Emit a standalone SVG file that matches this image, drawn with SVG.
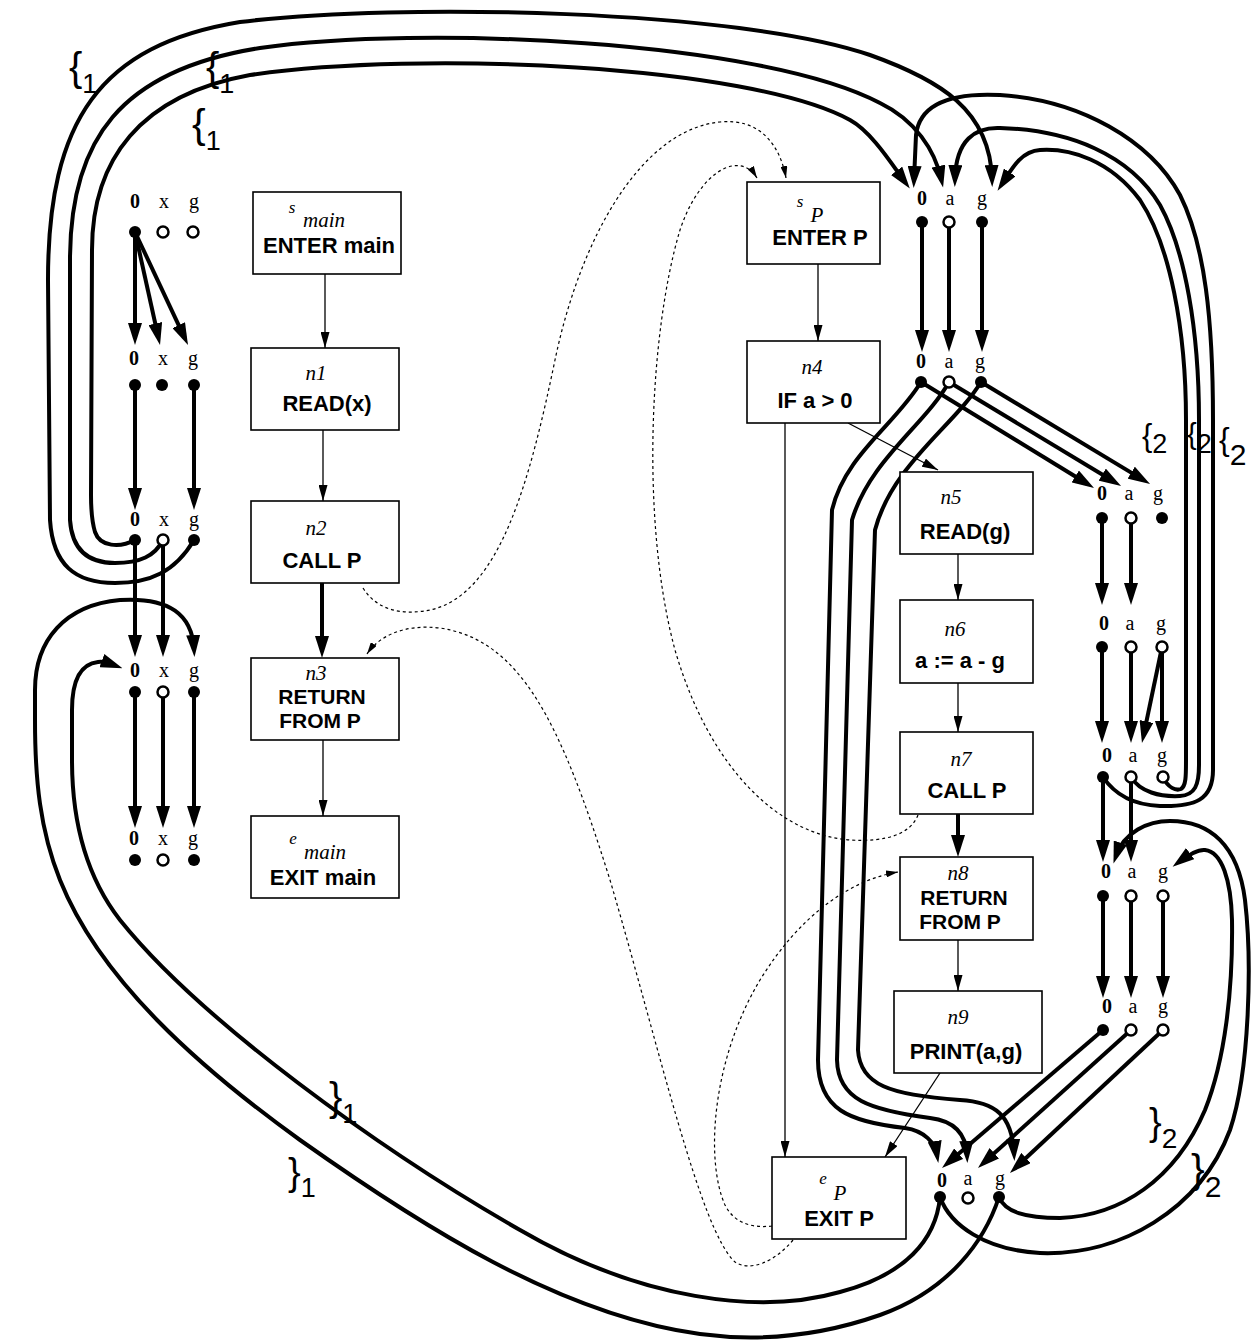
<svg xmlns="http://www.w3.org/2000/svg" width="1260" height="1344" viewBox="0 0 1260 1344">
<style>
.box{fill:#fff;stroke:#000;stroke-width:1.6}
.bt{font-family:"Liberation Sans",Arial,sans-serif;font-weight:bold;font-size:22px;text-anchor:middle;fill:#000}
.bt2{font-size:21px}
.it{font-family:"Liberation Serif","Times New Roman",serif;font-style:italic;font-size:21px;text-anchor:middle;fill:#000}
.its{font-family:"Liberation Serif","Times New Roman",serif;font-style:italic;font-size:17px;text-anchor:middle;fill:#000}
.v{font-family:"Liberation Serif","Times New Roman",serif;font-size:20px;text-anchor:middle;fill:#000}
.b{font-weight:bold}
.df{fill:#000}
.do{fill:#fff;stroke:#000;stroke-width:2.5}
.tk{fill:none;stroke:#000;stroke-width:4}
.th{fill:none;stroke:#000;stroke-width:1.3}
.dt{fill:none;stroke:#000;stroke-width:1.2;stroke-dasharray:3 3}
.br{font-family:"Liberation Sans",Arial,sans-serif;fill:#000}
</style>
<defs>
<marker id="ah" viewBox="0 0 22 14" refX="14" refY="7" markerWidth="22" markerHeight="14" markerUnits="userSpaceOnUse" orient="auto"><path d="M0,0 L22,7 L0,14 Z" fill="#000"/></marker>
<marker id="ta" viewBox="0 0 16 9" refX="16" refY="4.5" markerWidth="16" markerHeight="9" markerUnits="userSpaceOnUse" orient="auto"><path d="M0,0 L16,4.5 L0,9 Z" fill="#000"/></marker>
<marker id="da" viewBox="0 0 12 7" refX="12" refY="3.5" markerWidth="12" markerHeight="7" markerUnits="userSpaceOnUse" orient="auto"><path d="M0,0 L12,3.5 L0,7 Z" fill="#000"/></marker>
</defs>
<rect width="1260" height="1344" fill="#fff"/>

<g id="connectors">
<!-- flow edges -->
<path class="th" d="M325 274 L325 348" marker-end="url(#ta)"/>
<path class="th" d="M323 430 L323 501" marker-end="url(#ta)"/>
<path class="tk" d="M322 583 L322 650" marker-end="url(#ah)"/>
<path class="th" d="M323 740 L323 816" marker-end="url(#ta)"/>
<path class="th" d="M818 264 L818 341" marker-end="url(#ta)"/>
<path class="th" d="M848 423 L938 470" marker-end="url(#ta)"/>
<path class="th" d="M785 423 L785 1157" marker-end="url(#ta)"/>
<path class="th" d="M958 554 L958 600" marker-end="url(#ta)"/>
<path class="th" d="M958 683 L958 732" marker-end="url(#ta)"/>
<path class="tk" d="M958 814 L958 849" marker-end="url(#ah)"/>
<path class="th" d="M958 940 L958 991" marker-end="url(#ta)"/>
<path class="th" d="M940 1073 L885 1157" marker-end="url(#ta)"/>
<!-- call / return dotted -->
<path class="dt" d="M363 588 C378 612 405 615 430 610 C500 595 530 480 555 360 C580 240 640 130 720 122 C760 118 780 145 786 178" marker-end="url(#da)"/>
<path class="dt" d="M918 815 C910 835 885 842 850 840 C780 835 710 770 675 650 C640 520 650 330 680 230 C700 170 740 150 757 178" marker-end="url(#da)"/>
<path class="dt" d="M793 1240 C775 1262 750 1272 735 1262 C700 1230 660 1050 610 880 C560 720 520 640 440 628 C405 624 380 635 367 654" marker-end="url(#da)"/>
<path class="dt" d="M772 1226 C755 1228 735 1225 725 1205 C705 1160 712 1060 760 980 C800 915 850 880 898 872" marker-end="url(#da)"/>

<!-- main exploded edges -->
<path class="tk" d="M135 232 L135 337" marker-end="url(#ah)"/>
<path class="tk" d="M135 232 L158.3 337.2" marker-end="url(#ah)"/>
<path class="tk" d="M135 232 L184.6 337.8" marker-end="url(#ah)"/>
<path class="tk" d="M135 385 L135 502" marker-end="url(#ah)"/>
<path class="tk" d="M194 385 L194 502" marker-end="url(#ah)"/>
<path class="tk" d="M135 540 L135 649" marker-end="url(#ah)"/>
<path class="tk" d="M163 540 L163 649" marker-end="url(#ah)"/>
<path class="tk" d="M135 692 L135 820" marker-end="url(#ah)"/>
<path class="tk" d="M163 692 L163 820" marker-end="url(#ah)"/>
<path class="tk" d="M194 692 L194 820" marker-end="url(#ah)"/>
<!-- main call edges to P -->
<path class="tk" d="M135 540 C120 548 100 547 95 532 C92 522 91 510 91 495 L92 250 C92 160 140 95 250 75 C420 50 750 65 850 120 C872 132 893 166 905 182" marker-end="url(#ah)"/>
<path class="tk" d="M163 540 C155 556 140 563 115 563 C88 563 72 550 70 520 L70 260 C70 140 120 70 260 48 C420 25 760 40 880 103 C915 120 935 150 941.4 179.8" marker-end="url(#ah)"/>
<path class="tk" d="M194 540 C175 572 150 583 115 583 C75 583 53 565 50 520 L48 280 C48 120 100 45 240 22 C400 2 740 10 870 55 C940 80 990 110 992 179" marker-end="url(#ah)"/>
<!-- returns to main -->
<path class="tk" d="M940 1197 C936 1240 905 1275 840 1292 C760 1315 640 1300 520 1230 C380 1150 200 1020 120 920 C85 875 72 820 72 760 L72 710 C72 680 80 664 98 662 C106 661 111 664 115 665.5" marker-end="url(#ah)"/>
<path class="tk" d="M999 1197 C985 1240 950 1290 880 1315 C820 1336 760 1342 700 1334 C560 1315 420 1225 300 1140 C200 1068 100 980 60 880 C40 830 35 780 35 720 L35 690 C35 640 65 605 120 600 C170 597 192 615 194 649" marker-end="url(#ah)"/>

<!-- P exploded edges -->
<path class="tk" d="M922 222 L922 344" marker-end="url(#ah)"/>
<path class="tk" d="M949 222 L949 344" marker-end="url(#ah)"/>
<path class="tk" d="M982 222 L982 344" marker-end="url(#ah)"/>
<path class="tk" d="M921 382 L1087.2 483.8" marker-end="url(#ah)"/>
<path class="tk" d="M949 382 L1114.2 481.8" marker-end="url(#ah)"/>
<path class="tk" d="M981 382 L1143.2 479.9" marker-end="url(#ah)"/>
<path class="tk" d="M921 382 C895 425 845 455 832 510 L818 1060 C818 1110 850 1122 905 1128 C925 1131 935 1143 937 1155" marker-end="url(#ah)"/>
<path class="tk" d="M949 382 C925 425 870 460 852 520 L837 1060 C838 1100 870 1110 930 1118 C955 1121 966 1135 967 1155" marker-end="url(#ah)"/>
<path class="tk" d="M981 382 C955 425 892 465 875 530 L858 1050 C860 1085 890 1095 960 1100 C995 1102 1012 1115 1014 1153" marker-end="url(#ah)"/>
<path class="tk" d="M1102 518 L1102 597" marker-end="url(#ah)"/>
<path class="tk" d="M1131 518 L1131 597" marker-end="url(#ah)"/>
<path class="tk" d="M1102 647 L1102 735" marker-end="url(#ah)"/>
<path class="tk" d="M1131 647 L1131 735" marker-end="url(#ah)"/>
<path class="tk" d="M1162 647 L1143.6 735.2" marker-end="url(#ah)"/>
<path class="tk" d="M1162 647 L1162 735" marker-end="url(#ah)"/>
<path class="tk" d="M1103 777 L1103 854" marker-end="url(#ah)"/>
<path class="tk" d="M1131 777 L1131 854" marker-end="url(#ah)"/>
<path class="tk" d="M1103 896 L1103 990" marker-end="url(#ah)"/>
<path class="tk" d="M1131 896 L1131 990" marker-end="url(#ah)"/>
<path class="tk" d="M1163 896 L1163 990" marker-end="url(#ah)"/>
<path class="tk" d="M1103 1030 L948.1 1162.8" marker-end="url(#ah)"/>
<path class="tk" d="M1131 1030 L983.9 1162.6" marker-end="url(#ah)"/>
<path class="tk" d="M1163 1030 L1015.8 1167.5" marker-end="url(#ah)"/>
<!-- recursive call edges n7 -> ENTER P -->
<path class="tk" d="M1103 777 C1115 795 1135 805 1160 806 C1195 807 1213 800 1213 770 L1213 420 C1213 320 1205 245 1180 195 C1150 140 1080 100 1000 95 C960 93 920 100 916 135 L914 180" marker-end="url(#ah)"/>
<path class="tk" d="M1131 777 C1140 792 1160 797 1180 796 C1195 795 1199 785 1199 765 L1199 420 C1199 330 1185 250 1160 205 C1130 155 1070 130 1000 128 C975 127 956 140 955 179" marker-end="url(#ah)"/>
<path class="tk" d="M1163 777 C1168 788 1176 791 1181 789 C1186 786 1186 776 1186 760 L1186 420 C1186 330 1170 245 1140 200 C1110 160 1070 148 1040 150 C1020 151 1010 172 1002 184" marker-end="url(#ah)"/>
<!-- recursive returns EXIT P -> n8 -->
<path class="tk" d="M940 1197 C950 1225 985 1250 1040 1253 C1120 1256 1200 1210 1230 1130 C1250 1070 1252 960 1245 900 C1238 845 1210 821 1170 821 C1148 821 1124 832 1116 856" marker-end="url(#ah)"/>
<path class="tk" d="M999 1197 C1005 1212 1025 1218 1060 1218 C1120 1216 1175 1180 1205 1110 C1225 1060 1233 990 1232 920 C1231 880 1222 852 1205 850 C1197 849 1187 856 1179 862" marker-end="url(#ah)"/>
</g>

<!-- nodes: main -->
<g id="s_main"><rect class="box" x="253" y="192" width="148" height="82"/><text class="its" x="292" y="213">s</text><text class="it" x="324" y="227">main</text><text class="bt" x="329" y="253">ENTER main</text></g>
<g id="n1"><rect class="box" x="251" y="348" width="148" height="82"/><text class="it" x="316" y="380">n1</text><text class="bt" x="327" y="411">READ(x)</text></g>
<g id="n2"><rect class="box" x="251" y="501" width="148" height="82"/><text class="it" x="316" y="535">n2</text><text class="bt" x="322" y="568">CALL P</text></g>
<g id="n3"><rect class="box" x="251" y="658" width="148" height="82"/><text class="it" x="316" y="680">n3</text><text class="bt bt2" x="322" y="704">RETURN</text><text class="bt bt2" x="320" y="728">FROM P</text></g>
<g id="e_main"><rect class="box" x="251" y="816" width="148" height="82"/><text class="its" x="293" y="844">e</text><text class="it" x="325" y="859">main</text><text class="bt" x="323" y="885">EXIT main</text></g>
<!-- nodes: P -->
<g id="s_P"><rect class="box" x="747" y="182" width="133" height="82"/><text class="its" x="800" y="207">s</text><text class="it" x="817" y="222">P</text><text class="bt" x="820" y="245">ENTER P</text></g>
<g id="n4"><rect class="box" x="747" y="341" width="133" height="82"/><text class="it" x="812" y="374">n4</text><text class="bt" x="815" y="408">IF a &gt; 0</text></g>
<g id="n5"><rect class="box" x="900" y="472" width="133" height="82"/><text class="it" x="951" y="504">n5</text><text class="bt" x="965" y="539">READ(g)</text></g>
<g id="n6"><rect class="box" x="900" y="600" width="133" height="83"/><text class="it" x="955" y="636">n6</text><text class="bt" x="960" y="668">a := a - g</text></g>
<g id="n7"><rect class="box" x="900" y="732" width="133" height="82"/><text class="it" x="961" y="766">n7</text><text class="bt" x="967" y="798">CALL P</text></g>
<g id="n8"><rect class="box" x="900" y="857" width="133" height="83"/><text class="it" x="958" y="880">n8</text><text class="bt bt2" x="964" y="905">RETURN</text><text class="bt bt2" x="960" y="929">FROM P</text></g>
<g id="n9"><rect class="box" x="894" y="991" width="148" height="82"/><text class="it" x="958" y="1024">n9</text><text class="bt" x="966" y="1059">PRINT(a,g)</text></g>
<g id="e_P"><rect class="box" x="772" y="1157" width="134" height="82"/><text class="its" x="823" y="1184">e</text><text class="it" x="840" y="1200" font-size="20">P</text><text class="bt" x="839" y="1226">EXIT P</text></g>

<!-- exploded variable rows -->
<g id="vars_main_1"><text class="v b" x="135" y="208">0</text><text class="v" x="164" y="208">x</text><text class="v" x="194" y="208">g</text><circle class="df" cx="135" cy="232" r="6"/><circle class="do" cx="163" cy="232" r="5.5"/><circle class="do" cx="193" cy="232" r="5.5"/></g>
<g id="vars_main_2"><text class="v b" x="134" y="365">0</text><text class="v" x="163" y="365">x</text><text class="v" x="193" y="365">g</text><circle class="df" cx="135" cy="385" r="6"/><circle class="df" cx="162" cy="385" r="6"/><circle class="df" cx="194" cy="385" r="6"/></g>
<g id="vars_main_3"><text class="v b" x="135" y="526">0</text><text class="v" x="164" y="526">x</text><text class="v" x="194" y="526">g</text><circle class="df" cx="135" cy="540" r="6"/><circle class="do" cx="163" cy="540" r="5.5"/><circle class="df" cx="194" cy="540" r="6"/></g>
<g id="vars_main_4"><text class="v b" x="135" y="677">0</text><text class="v" x="164" y="677">x</text><text class="v" x="194" y="677">g</text><circle class="df" cx="135" cy="692" r="6"/><circle class="do" cx="163" cy="692" r="5.5"/><circle class="df" cx="194" cy="692" r="6"/></g>
<g id="vars_main_5"><text class="v b" x="134" y="845">0</text><text class="v" x="163" y="845">x</text><text class="v" x="193" y="845">g</text><circle class="df" cx="135" cy="860" r="6"/><circle class="do" cx="163" cy="860" r="5.5"/><circle class="df" cx="194" cy="860" r="6"/></g>
<g id="vars_P_entry"><text class="v b" x="922" y="205">0</text><text class="v" x="950" y="205">a</text><text class="v" x="982" y="205">g</text><circle class="df" cx="922" cy="222" r="6"/><circle class="do" cx="949" cy="222" r="5.5"/><circle class="df" cx="982" cy="222" r="6"/></g>
<g id="vars_P_n4"><text class="v b" x="921" y="368">0</text><text class="v" x="949" y="368">a</text><text class="v" x="980" y="368">g</text><circle class="df" cx="921" cy="382" r="6"/><circle class="do" cx="949" cy="382" r="5.5"/><circle class="df" cx="981" cy="382" r="6"/></g>
<g id="vars_P_n5"><text class="v b" x="1102" y="500">0</text><text class="v" x="1129" y="500">a</text><text class="v" x="1158" y="500">g</text><circle class="df" cx="1102" cy="518" r="6"/><circle class="do" cx="1131" cy="518" r="5.5"/><circle class="df" cx="1162" cy="518" r="6"/></g>
<g id="vars_P_n6"><text class="v b" x="1104" y="630">0</text><text class="v" x="1130" y="630">a</text><text class="v" x="1161" y="630">g</text><circle class="df" cx="1102" cy="647" r="6"/><circle class="do" cx="1131" cy="647" r="5.5"/><circle class="do" cx="1162" cy="647" r="5.5"/></g>
<g id="vars_P_n7"><text class="v b" x="1107" y="762">0</text><text class="v" x="1133" y="762">a</text><text class="v" x="1162" y="762">g</text><circle class="df" cx="1103" cy="777" r="6"/><circle class="do" cx="1131" cy="777" r="5.5"/><circle class="do" cx="1163" cy="777" r="5.5"/></g>
<g id="vars_P_n8"><text class="v b" x="1106" y="878">0</text><text class="v" x="1132" y="878">a</text><text class="v" x="1163" y="878">g</text><circle class="df" cx="1103" cy="896" r="6"/><circle class="do" cx="1131" cy="896" r="5.5"/><circle class="do" cx="1163" cy="896" r="5.5"/></g>
<g id="vars_P_n9"><text class="v b" x="1107" y="1013">0</text><text class="v" x="1133" y="1013">a</text><text class="v" x="1163" y="1013">g</text><circle class="df" cx="1103" cy="1030" r="6"/><circle class="do" cx="1131" cy="1030" r="5.5"/><circle class="do" cx="1163" cy="1030" r="5.5"/></g>
<g id="vars_P_exit"><text class="v b" x="942" y="1187">0</text><text class="v" x="968" y="1185">a</text><text class="v" x="1000" y="1185">g</text><circle class="df" cx="940" cy="1197" r="6"/><circle class="do" cx="968" cy="1198" r="5.5"/><circle class="df" cx="999" cy="1197" r="6"/></g>

<!-- bracket labels -->
<g id="brackets">
<text class="br" x="69" y="81" font-size="40">{<tspan dy="12" font-size="27">1</tspan></text>
<text class="br" x="206" y="81" font-size="40">{<tspan dy="12" font-size="27">1</tspan></text>
<text class="br" x="192" y="138" font-size="41">{<tspan dy="12" font-size="27">1</tspan></text>
<text class="br" x="329" y="1111" font-size="40">}<tspan dy="12" font-size="27">1</tspan></text>
<text class="br" x="288" y="1185" font-size="38">}<tspan dy="12" font-size="27">1</tspan></text>
<text class="br" x="1142" y="446" font-size="31">{<tspan dy="7" font-size="27">2</tspan></text>
<text class="br" x="1187" y="444" font-size="29">{<tspan dy="9" font-size="27">2</tspan></text>
<text class="br" x="1219" y="450" font-size="32">{<tspan dy="15" font-size="30">2</tspan></text>
<text class="br" x="1149" y="1135" font-size="38">}<tspan dy="13" font-size="28">2</tspan></text>
<text class="br" x="1191" y="1183" font-size="41">}<tspan dy="14" font-size="30">2</tspan></text>
</g>
</svg>
